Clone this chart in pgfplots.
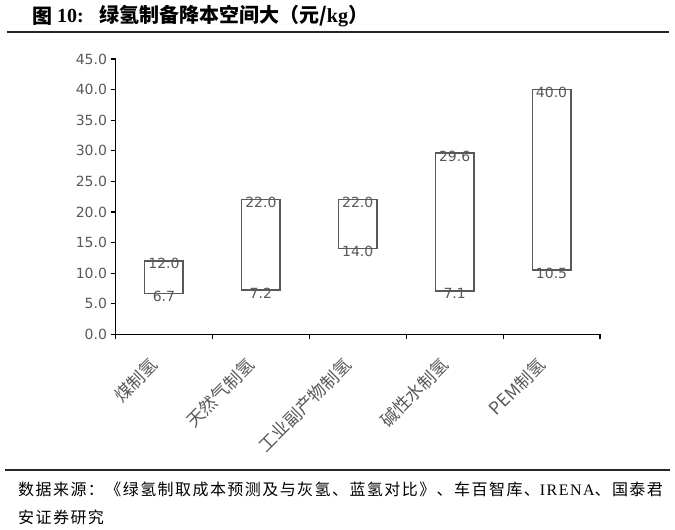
\documentclass[border=0pt]{standalone}
\usepackage{fontspec}
\setmainfont{Liberation Serif}
\newfontfamily\cjk{Noto Sans CJK SC}
\newfontfamily\dv{DejaVu Sans}
\usepackage{pgfplots}
\usepackage{pgfplotstable}
\pgfplotsset{compat=1.18}
\definecolor{txtgray}{HTML}{595959}
\definecolor{boxgray}{HTML}{595959}

% low end, span of the box, high end (yuan/kg)
\pgfplotstableread{
idx low  span high
0   6.7  5.3  12.0
1   7.2  14.8 22.0
2   14.0 8.0  22.0
3   7.1  22.5 29.6
4   10.5 29.5 40.0
}\hydrogen

\pgfplotsset{frame/.style={
  at={(115.5bp,195.7bp)}, anchor=south west,
  scale only axis, width=484.5bp, height=275.3bp,
  xmin=-0.5, xmax=4.5, ymin=0, ymax=45}}

\begin{document}
\begin{tikzpicture}[x=1bp,y=1bp]
\useasboundingbox (0,0) rectangle (675,530);
% title and rules
\begin{scope}[every node/.style={anchor=west, inner sep=0pt, font=\fontsize{20bp}{22bp}\selectfont}]
\node at (32,514) {\cjk\bfseries 图};
\node at (57,514) {\bfseries 10:};
\node at (99,514) {{\cjk\bfseries 绿氢制备降本空间大（元/}\textbf{kg}{\cjk\bfseries ）}};
\end{scope}
\draw[line width=1.8bp, black!85] (6.5,498.3) -- (669,498.3);
\draw[line width=1.5bp, black!85] (5,60) -- (670,60);
\node[anchor=west, inner sep=0pt] at (18,41)
  {\fontsize{16bp}{18bp}\selectfont\addfontfeature{LetterSpace=9}{\cjk\addfontfeature{LetterSpace=9} 数据来源：《绿氢制取成本预测及与灰氢、蓝氢对比》、车百智库、}IRENA{\cjk\addfontfeature{LetterSpace=9}、国泰君}};
\node[anchor=west, inner sep=0pt] at (18,13)
  {\fontsize{16bp}{18bp}\selectfont{\cjk\addfontfeature{LetterSpace=9}安证券研究}};

\begin{axis}[
  frame,
  ybar stacked, bar width=38.5bp,
  axis x line*=bottom, axis y line*=left,
  axis line style={line width=1.2bp, black},
  xtick={0,...,4},
  xticklabels={煤制氢,天然气制氢,工业副产物制氢,碱性水制氢,PEM制氢},
  minor xtick={-0.5,0.5,1.5,2.5,3.5,4.5},
  ytick={0,5,...,45},
  tick align=outside, major tick length=5bp, minor tick length=5bp,
  major x tick style={draw=none},
  minor x tick style={line width=1.2bp, black},
  y tick style={line width=1.2bp, black},
  yticklabel style={font=\dv\fontsize{14bp}{16bp}\selectfont, text=txtgray},
  xticklabel style={font=\cjk\fontsize{17.5bp}{19bp}\selectfont, text=txtgray, xshift=-7bp, yshift=-20bp, rotate=45, anchor=east},
  /pgf/number format/fixed, /pgf/number format/fixed zerofill,
  /pgf/number format/precision=1, /pgf/number format/assume math mode=true,
]
\addplot[draw=none, fill=none] table[x=idx, y=low] {\hydrogen};
\addplot[draw=boxgray, fill=none, line width=1.5bp] table[x=idx, y=span] {\hydrogen};
\end{axis}

% value labels at both ends of each box
\begin{axis}[
  frame, hide axis,
  nodes near coords, point meta=explicit symbolic,
  every node near coord/.append style={font=\dv\fontsize{14bp}{16bp}\selectfont, text=txtgray, anchor=center, yshift=-3bp},
]
\addplot[draw=none] table[x=idx, y=low, meta=low] {\hydrogen};
\addplot[draw=none] table[x=idx, y=high, meta=high] {\hydrogen};
\end{axis}
\end{tikzpicture}
\end{document}
